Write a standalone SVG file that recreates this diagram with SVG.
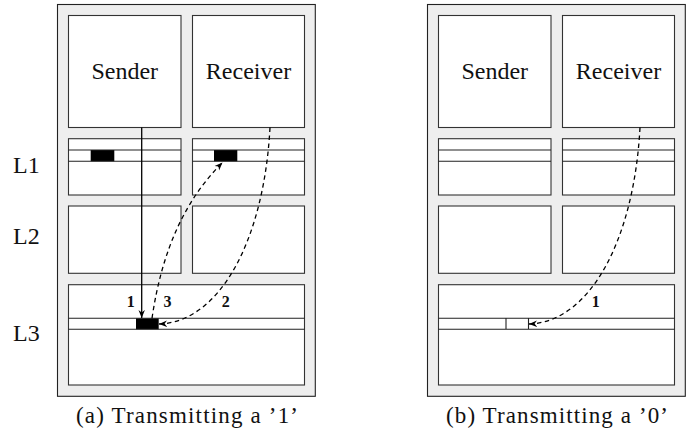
<svg xmlns="http://www.w3.org/2000/svg" width="700" height="437" viewBox="0 0 700 437">
<defs>
<style>
.panel{fill:#eeeeee;stroke:#222;stroke-width:1.1}
.box{fill:#fff;stroke:#333;stroke-width:1.1}
.ln{stroke:#222;stroke-width:1.1;fill:none}
.blk{fill:#000}
.f{font-family:"Liberation Serif","DejaVu Serif",serif;fill:#111}
.big{font-size:24px;text-anchor:middle}
.lab{font-size:24px}
.cap{font-size:23px;text-anchor:middle}
.num{font-size:16px;font-weight:bold;text-anchor:middle}
.arr{fill:none;stroke:#000;stroke-width:1.3}
.dash{stroke-dasharray:4.5 3.5}
</style>
<marker id="ah" viewBox="0 0 10 10" refX="10" refY="5" markerWidth="8" markerHeight="8" markerUnits="userSpaceOnUse" orient="auto">
<path d="M0,1 L10,5 L0,9 L3,5 z" fill="#000"/>
</marker>
</defs>

<g id="labels" class="f">
<text class="lab" x="13" y="173">L1</text>
<text class="lab" x="13" y="244">L2</text>
<text class="lab" x="13" y="341">L3</text>
</g>

<g id="panel-a" class="f">
<rect class="panel" x="57.5" y="4.5" width="257.8" height="391.8"/>
<g id="a-sender"><rect class="box" x="68.5" y="15.5" width="112.5" height="112"/><text class="big" x="124.8" y="78.5">Sender</text></g>
<g id="a-receiver"><rect class="box" x="192.5" y="15.5" width="112" height="112"/><text class="big" x="248.5" y="78.5">Receiver</text></g>
<g id="a-l1-sender"><rect class="box" x="68.5" y="138.7" width="112.5" height="56.3"/><rect class="blk" x="90.7" y="150" width="23.6" height="11.3"/><path class="ln" d="M68.5,150H181M68.5,161.3H181"/></g>
<g id="a-l1-receiver"><rect class="box" x="192.5" y="138.7" width="112" height="56.3"/><rect class="blk" x="214" y="150" width="23.3" height="11.3"/><path class="ln" d="M192.5,150H304.5M192.5,161.3H304.5"/></g>
<g id="a-l2-sender"><rect class="box" x="68.5" y="206" width="112.5" height="67.3"/></g>
<g id="a-l2-receiver"><rect class="box" x="192.5" y="206" width="112" height="67.3"/></g>
<g id="a-l3"><rect class="box" x="68.5" y="284.7" width="236" height="100.3"/><rect class="blk" x="136" y="318.3" width="22.7" height="11"/><path class="ln" d="M68.5,318.3H304.5M68.5,329.3H304.5"/></g>
<text class="cap" x="187" y="423.3" textLength="222" lengthAdjust="spacing">(a) Transmitting a ’1’</text>
</g>

<g id="panel-b" class="f">
<rect class="panel" x="427.5" y="4.5" width="257.8" height="391.8"/>
<g id="b-sender"><rect class="box" x="438.5" y="15.5" width="112.5" height="112"/><text class="big" x="494.8" y="78.5">Sender</text></g>
<g id="b-receiver"><rect class="box" x="562.5" y="15.5" width="112" height="112"/><text class="big" x="618.5" y="78.5">Receiver</text></g>
<g id="b-l1-sender"><rect class="box" x="438.5" y="138.7" width="112.5" height="56.3"/><path class="ln" d="M438.5,150H551M438.5,161.3H551"/></g>
<g id="b-l1-receiver"><rect class="box" x="562.5" y="138.7" width="112" height="56.3"/><path class="ln" d="M562.5,150H674.5M562.5,161.3H674.5"/></g>
<g id="b-l2-sender"><rect class="box" x="438.5" y="206" width="112.5" height="67.3"/></g>
<g id="b-l2-receiver"><rect class="box" x="562.5" y="206" width="112" height="67.3"/></g>
<g id="b-l3"><rect class="box" x="438.5" y="284.7" width="236" height="100.3"/><path class="ln" d="M438.5,318.3H674.5M438.5,329.3H674.5M506,318.3V329.3M528.5,318.3V329.3"/></g>
<text class="cap" x="557" y="423.3" textLength="222" lengthAdjust="spacing">(b) Transmitting a ’0’</text>
</g>

<g id="connectors" class="f">
<path class="arr" d="M141.7,127.5 L141.7,318" marker-end="url(#ah)"/>
<path class="arr dash" d="M270,127.5 C264,240 220,322 159,324" marker-end="url(#ah)"/>
<path class="arr dash" d="M152,318.3 C162,250 185,200 222.5,162.5" marker-end="url(#ah)"/>
<path class="arr dash" d="M640,127.5 C634,240 590,322 529,324" marker-end="url(#ah)"/>
<text class="num" x="130.7" y="306.7">1</text>
<text class="num" x="167.5" y="306.7">3</text>
<text class="num" x="225.7" y="306.7">2</text>
<text class="num" x="595.7" y="306.7">1</text>
</g>
</svg>
